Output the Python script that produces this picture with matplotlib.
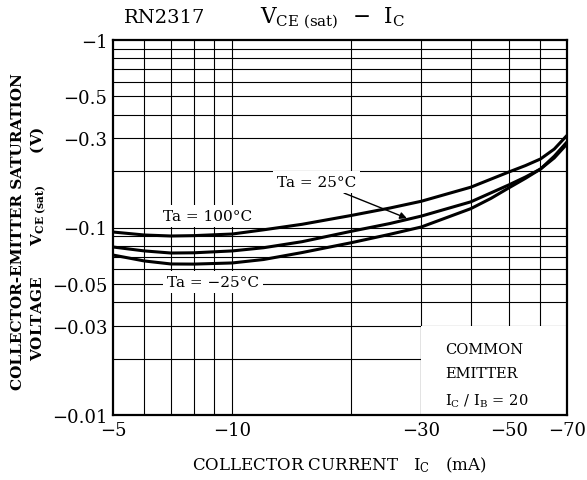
import matplotlib
matplotlib.use("Agg")
import matplotlib.pyplot as plt

plt.rcParams['font.family'] = 'DejaVu Serif'
plt.rcParams['mathtext.default'] = 'regular'

# collector current (mA, magnitude) and VCE(sat) (V, magnitude)
ic_100 = [5, 6, 7, 8, 10, 12, 15, 20, 25, 30, 40, 50, 55, 60, 65, 70]
vce_100 = [0.0946, 0.0912, 0.0901, 0.0905, 0.0923, 0.0972, 0.1040, 0.116, 0.127, 0.138, 0.164, 0.198, 0.214, 0.232, 0.262, 0.310]

ic_25 = [5, 6, 7, 8, 10, 12, 15, 20, 25, 30, 40, 50, 55, 60, 65, 70]
vce_25 = [0.0787, 0.0750, 0.0731, 0.0733, 0.0750, 0.0780, 0.0840, 0.0955, 0.105, 0.115, 0.137, 0.169, 0.186, 0.205, 0.235, 0.279]

ic_m25 = [5, 6, 7, 8, 10, 12, 15, 20, 25, 30, 40, 45, 50, 55, 60, 65, 70]
vce_m25 = [0.0713, 0.0663, 0.0639, 0.0638, 0.0647, 0.0675, 0.0735, 0.0830, 0.092, 0.1006, 0.126, 0.143, 0.163, 0.183, 0.205, 0.240, 0.286]

x_ticks = [5, 10, 30, 50, 70]
x_labels = ['−5', '−10', '−30', '−50', '−70']
y_ticks = [0.01, 0.03, 0.05, 0.1, 0.3, 0.5, 1]
y_labels = ['−0.01', '−0.03', '−0.05', '−0.1', '−0.3', '−0.5', '−1']

x_grid = [6, 7, 8, 9, 10, 20, 30]
x_grid_short = [40, 50, 60]
y_grid = [0.03, 0.04, 0.05, 0.06, 0.07, 0.08, 0.09, 0.1, 0.2, 0.3, 0.4, 0.5, 0.6, 0.7, 0.8, 0.9]
y_grid_short = [0.02]

fig = plt.figure(figsize=(5.87, 4.81), dpi=100)
ax = fig.add_axes([113/587, 65/481, 454/587, 375/481])
ax.set_xscale('log')
ax.set_yscale('log')
ax.set_xlim(5, 70)
ax.set_ylim(0.01, 1)

gkw = dict(color='black', lw=0.8, zorder=1)
for x in x_grid:
    ax.axvline(x, **gkw)
for x in x_grid_short:
    ax.vlines(x, 0.03, 1, **gkw)
for y in y_grid:
    ax.axhline(y, **gkw)
for y in y_grid_short:
    ax.hlines(y, 5, 30, **gkw)

ckw = dict(color='black', lw=2.2, zorder=4, solid_capstyle='butt', solid_joinstyle='round')
ax.plot(ic_100, vce_100, **ckw)
ax.plot(ic_25, vce_25, **ckw)
ax.plot(ic_m25, vce_m25, **ckw)

ax.xaxis.set_minor_locator(matplotlib.ticker.NullLocator())
ax.yaxis.set_minor_locator(matplotlib.ticker.NullLocator())
ax.set_xticks(x_ticks)
ax.set_xticklabels(x_labels, fontsize=13)
ax.set_yticks(y_ticks)
ax.set_yticklabels(y_labels, fontsize=13)
ax.tick_params(length=0, pad=4)
for s in ax.spines.values():
    s.set_linewidth(1.6)
    s.set_zorder(5)

box = dict(facecolor='white', edgecolor='none', pad=3)
ax.text(8.64, 0.115, 'Ta = 100°C', fontsize=11, ha='center', va='center', bbox=box, zorder=3)
ax.text(8.94, 0.0512, 'Ta = −25°C', fontsize=11, ha='center', va='center', bbox=box, zorder=3)
ax.annotate('Ta = 25°C', xy=(27.6, 0.112), xytext=(16.3, 0.175), fontsize=11,
            ha='center', va='center', bbox=box, zorder=3,
            arrowprops=dict(arrowstyle='-|>', color='black', lw=1.0,
                            mutation_scale=10, shrinkA=0, shrinkB=0))

# blank area behind the test-condition note
ax.add_patch(matplotlib.patches.Rectangle((30, 0.01), 40, 0.02, facecolor='white',
                                          edgecolor='none', zorder=2))
ax.vlines(30, 0.01, 0.03, **gkw)
ax.text(34.5, 0.0163, 'COMMON\nEMITTER\nI$_C$ / I$_B$ = 20', fontsize=10.5,
        ha='left', va='center', linespacing=1.9, zorder=3)

fig.text(165/587, 1 - 18/481, 'RN2317', fontsize=14, ha='center', va='center')
fig.text(333/587, 1 - 18/481, 'V$_{CE\\ (sat)}$  −  I$_C$', fontsize=15.5, ha='center', va='center')

fig.text(339/587, 1 - 465/481, 'COLLECTOR CURRENT   I$_C$   (mA)', fontsize=12,
         ha='center', va='center')
fig.text(18/587, 1 - 232/481, 'COLLECTOR-EMITTER SATURATION', fontsize=11, fontweight='bold',
         rotation=90, ha='center', va='center')
fig.text(38/587, 1 - 244/481, 'VOLTAGE      V$_{CE\\ (sat)}$      (V)', fontsize=11, fontweight='bold',
         rotation=90, ha='center', va='center')

fig.savefig('out.png', dpi=100)
